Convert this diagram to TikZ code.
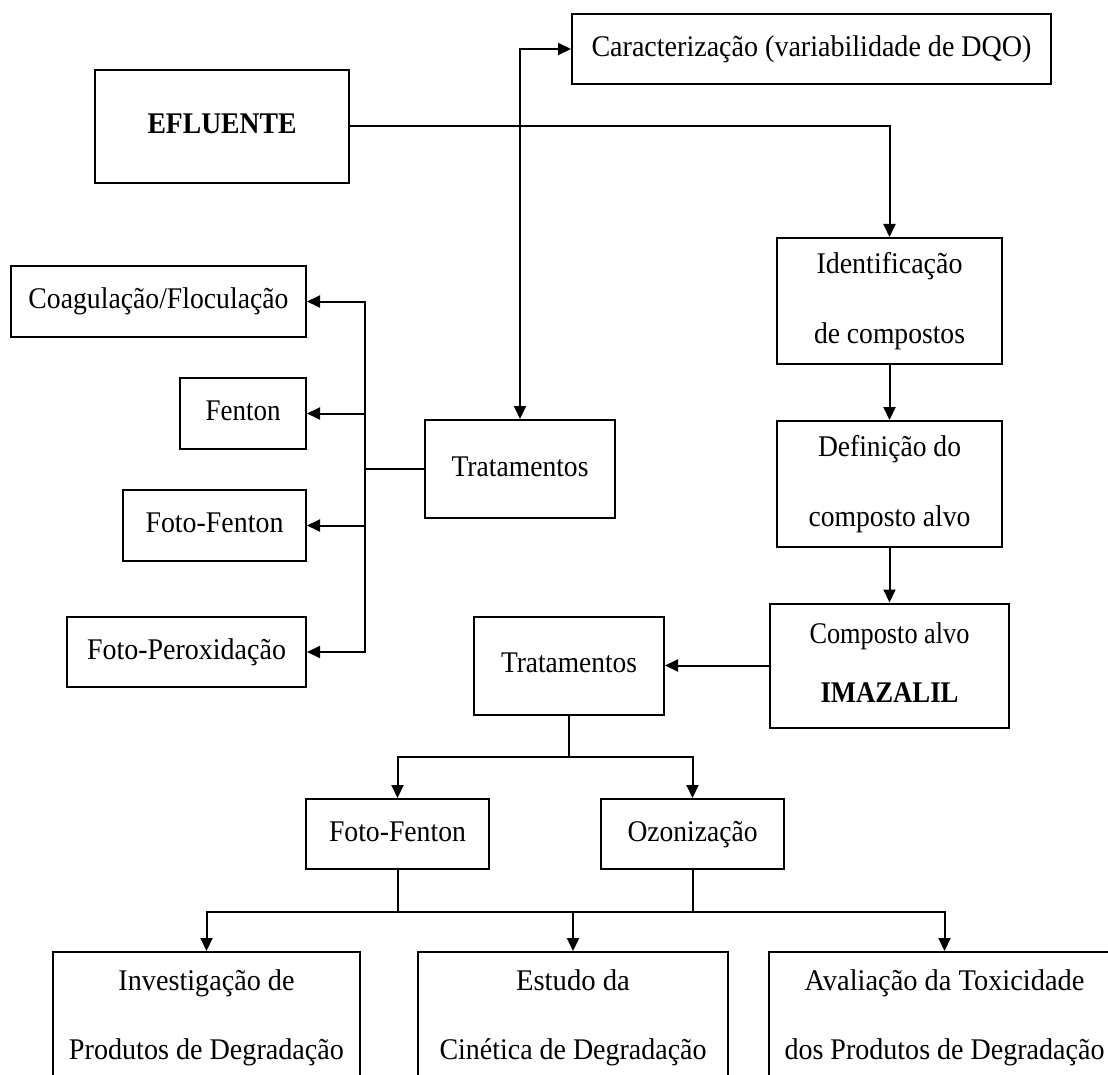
\documentclass[tikz,border=0pt]{standalone}
\usepackage{fontspec}
\setmainfont{Liberation Serif}
\usetikzlibrary{arrows.meta}
\newcommand\tl[2]{\resizebox{#1}{\height}{#2\vphantom{dp}}}
\begin{document}
\begin{tikzpicture}[x=1pt,y=-1pt,
  bx/.style={draw, line width=2pt, inner sep=0pt, align=center, font=\fontsize{30}{36}\selectfont},
  ln/.style={line width=2pt, line cap=rect},
  arr/.style={line width=2pt, -{Triangle[length=13pt,width=12pt]}},
  arr2/.style={line width=2pt, {Triangle[length=13pt,width=12pt]}-{Triangle[length=13pt,width=12pt]}}]
\path[use as bounding box, fill=white] (0,0) rectangle (1108,1075);
\begin{scope}
\clip (0,0) rectangle (1108,1075);
% boxes
\node[bx, minimum width=479pt, minimum height=70pt] (car) at (811.5,49) {\tl{440pt}{Caracterização (variabilidade de DQO)}};
\node[bx, minimum width=254pt, minimum height=113pt] (efl) at (222,126.5) {\bfseries\tl{149pt}{EFLUENTE}};
\node[bx, minimum width=225pt, minimum height=126pt] (ide) at (889.5,301) {\tl{146pt}{Identificação}\\[34pt]\tl{151pt}{de compostos}};
\node[bx, minimum width=225pt, minimum height=126pt] (def) at (889.5,484) {\tl{143pt}{Definição do}\\[34pt]\tl{162pt}{composto alvo}};
\node[bx, minimum width=239pt, minimum height=124pt] (cmp) at (889.5,665.5) {\tl{160pt}{Composto alvo}\\[23pt]{\bfseries\tl{138pt}{IMAZALIL}}};
\node[bx, minimum width=190pt, minimum height=98pt] (trA) at (520,469) {\tl{137pt}{Tratamentos}};
\node[bx, minimum width=295pt, minimum height=71pt] (coa) at (158.5,301.5) {\tl{260pt}{Coagulação/Floculação}};
\node[bx, minimum width=126pt, minimum height=71pt] (fen) at (243,413.5) {\tl{75pt}{Fenton}};
\node[bx, minimum width=183pt, minimum height=71pt] (ffA) at (214.5,525.5) {\tl{138pt}{Foto-Fenton}};
\node[bx, minimum width=239pt, minimum height=70pt] (fpx) at (186.5,652) {\tl{199pt}{Foto-Peroxidação}};
\node[bx, minimum width=190pt, minimum height=98pt] (trB) at (569,665.5) {\tl{136pt}{Tratamentos}};
\node[bx, minimum width=183pt, minimum height=70pt] (ffB) at (397.5,834) {\tl{137pt}{Foto-Fenton}};
\node[bx, minimum width=183pt, minimum height=70pt] (ozo) at (692.5,834) {\tl{130pt}{Ozonização}};
\node[bx, minimum width=307pt, minimum height=131pt] (inv) at (206.5,1017.5) {\tl{176pt}{Investigação de}\\[33pt]\tl{275pt}{Produtos de Degradação}};
\node[bx, minimum width=310pt, minimum height=131pt] (est) at (573,1017.5) {\tl{114pt}{Estudo da}\\[33pt]\tl{267pt}{Cinética de Degradação}};
\node[bx, minimum width=351pt, minimum height=131pt] (ava) at (944.5,1017.5) {\tl{280pt}{Avaliação da Toxicidade}\\[33pt]\tl{320pt}{dos Produtos de Degradação}};
% connectors
\draw[arr] (efl.east) -| (ide.north);
\draw[arr2] (car.west) -| (trA.north);
\draw[arr] (ide.south) -- (def.north);
\draw[arr] (def.south) -- (cmp.north);
\draw[arr] (cmp.west) -- (trB.east);
% left bus
\coordinate (j0) at (365,469);
\draw[ln] (trA.west) -- (j0);
\draw[ln] (j0 |- coa.east) -- (j0 |- fpx.east);
\draw[arr] (j0 |- coa.east) -- (coa.east);
\draw[arr] (j0 |- fen.east) -- (fen.east);
\draw[arr] (j0 |- ffA.east) -- (ffA.east);
\draw[arr] (j0 |- fpx.east) -- (fpx.east);
% lower tree
\coordinate (j1) at (569,757);
\draw[ln] (trB.south) -- (j1);
\draw[ln] (ffB.north |- j1) -- (ozo.north |- j1);
\draw[arr] (ffB.north |- j1) -- (ffB.north);
\draw[arr] (ozo.north |- j1) -- (ozo.north);
\coordinate (j2) at (573,912);
\draw[ln] (ffB.south) -- (ffB.south |- j2);
\draw[ln] (ozo.south) -- (ozo.south |- j2);
\draw[ln] (inv.north |- j2) -- (ava.north |- j2);
\draw[arr] (inv.north |- j2) -- (inv.north);
\draw[arr] (est.north |- j2) -- (est.north);
\draw[arr] (ava.north |- j2) -- (ava.north);
\end{scope}
\end{tikzpicture}
\end{document}
